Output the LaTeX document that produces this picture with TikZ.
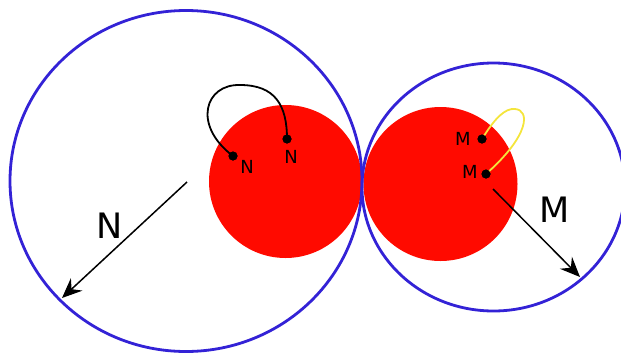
\documentclass[tikz,border=0pt]{standalone}
\usepackage{fontspec}
\setmainfont{DejaVu Sans}
\usetikzlibrary{arrows.meta}
\definecolor{ringblue}{HTML}{3322D6}
\definecolor{ballred}{HTML}{FF0A00}
\definecolor{loopyellow}{HTML}{F4E53C}
\begin{document}
\begin{tikzpicture}[x=1pt,y=-1pt,
 ring/.style={draw=ringblue,line width=2.8pt},
 dot/.style={circle,fill=black,inner sep=0pt,minimum size=9pt},
 small/.style={font=\fontsize{18}{20}\selectfont,inner sep=0pt},
 big/.style={font=\fontsize{35}{40}\selectfont,inner sep=0pt},
 vec/.style={line width=1.5pt,-{Stealth[length=20pt,width=17pt,inset=7pt]}}]
\useasboundingbox (0,0) rectangle (621,354);
\fill[ballred] (285.5,181.5) circle (76.5pt);
\fill[ballred] (440.5,184) circle (77pt);
\draw[ring] (186,181) ellipse [x radius=176pt, y radius=170.5pt];
\draw[ring] (493.5,187) ellipse [x radius=131.5pt, y radius=124pt];
% points and labels
\node[dot] (n1) at (233,156) {};
\node[dot] (n2) at (287,139) {};
\node[dot] (m1) at (482,139) {};
\node[dot] (m2) at (486,174) {};
\coordinate (ntop) at (240,85);
\coordinate (mtop) at (515,109);
\draw[line width=1.8pt] (n1.center) .. controls (192,125) and (205,84) .. (ntop)
  .. controls (275,85) and (287,105) .. (n2.center);
\draw[loopyellow,line width=1.8pt] (m1.center) .. controls (495,118) and (505,108) .. (mtop)
  .. controls (530,110) and (530,135) .. (m2.center);
\node[dot] at (n1) {};
\node[dot] at (n2) {};
\node[dot] at (m1) {};
\node[dot] at (m2) {};
\node[small] (ln1) at (247,167) {N};
\node[small] (ln2) at (291,157) {N};
\node[small] (lm1) at (463,139) {M};
\node[small] (lm2) at (470,172) {M};
% vectors
\coordinate (a1) at (187,182);
\coordinate (a1t) at (62,298);
\coordinate (a2) at (493,189);
\coordinate (a2t) at (580,277);
\draw[vec] (a1) -- (a1t);
\draw[vec] (a2) -- (a2t);
\node[big] (bn) at (110,226) {N};
\node[big] (bm) at (555,210) {M};
\end{tikzpicture}
\end{document}
